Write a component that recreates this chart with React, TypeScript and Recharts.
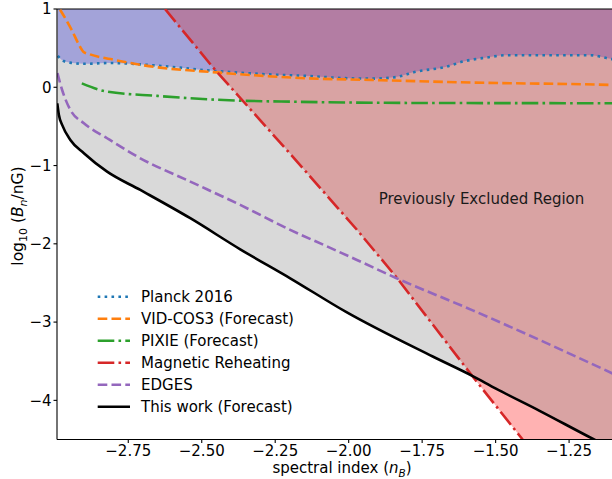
import { ComposedChart, Line, Area, XAxis, YAxis, ReferenceLine } from "recharts";

// spectral index n_B vs log10(B_n / nG)
const X_MIN = -2.9925;
const X_MAX = -1.104;
const Y_MIN = -4.5;
const Y_MAX = 1;

const xTicks = [-2.75, -2.5, -2.25, -2.0, -1.75, -1.5, -1.25];
const yTicks = [-4, -3, -2, -1, 0, 1];

const planck2016: [number, number][] = [
  [-2.99, 0.4], [-2.97, 0.335], [-2.94, 0.31], [-2.9, 0.3], [-2.81, 0.31],
  [-2.68, 0.285], [-2.46, 0.21], [-2.3, 0.17], [-2.145, 0.145], [-2.0, 0.115],
  [-1.92, 0.11], [-1.84, 0.13], [-1.77, 0.2], [-1.67, 0.26], [-1.61, 0.33],
  [-1.53, 0.38], [-1.465, 0.41], [-1.3, 0.41], [-1.18, 0.41], [-1.105, 0.36],
  [-1.06, 0.34],
];

const vidCos3: [number, number][] = [
  [-2.982, 0.99], [-2.942, 0.73], [-2.92, 0.56], [-2.903, 0.455], [-2.88, 0.42],
  [-2.81, 0.36], [-2.68, 0.27], [-2.45, 0.19], [-2.145, 0.115], [-1.92, 0.093],
  [-1.58, 0.06], [-1.105, 0.03], [-1.06, 0.025],
];

const pixie: [number, number][] = [
  [-2.908, 0.05], [-2.822, -0.056], [-2.652, -0.11], [-2.482, -0.153],
  [-2.369, -0.171], [-2.199, -0.184], [-1.972, -0.196], [-1.8, -0.2],
  [-1.105, -0.205], [-1.06, -0.206],
];

const magneticReheating: [number, number][] = [
  [-2.625, 1.0], [-2.461, 0.25], [-2.199, -0.85], [-1.972, -1.82],
  [-1.839, -2.42], [-1.578, -3.696], [-1.421, -4.44], [-1.408, -4.5],
];

const edges: [number, number][] = [
  [-2.991, 0.18], [-2.975, -0.035], [-2.947, -0.29], [-2.901, -0.46],
  [-2.822, -0.651], [-2.709, -0.907], [-2.539, -1.205], [-2.369, -1.503],
  [-2.199, -1.822], [-2.085, -2.014], [-1.972, -2.206], [-1.839, -2.436],
  [-1.578, -2.85], [-1.104, -3.653], [-1.06, -3.73],
];

const thisWork: [number, number][] = [
  [-2.9915, -0.205], [-2.986, -0.354], [-2.975, -0.48], [-2.947, -0.673],
  [-2.901, -0.843], [-2.822, -1.078], [-2.709, -1.312], [-2.539, -1.673],
  [-2.369, -2.07], [-2.199, -2.44], [-2.009, -2.87], [-1.714, -3.44],
  [-1.578, -3.69], [-1.499, -3.85], [-1.352, -4.13], [-1.17, -4.49],
  [-1.06, -4.7],
];

const FONT = "'DejaVu Sans', sans-serif";
const DOT = "2.6 4.3";
const DASH = "9.6 4.2";
const DASHDOT = "16.6 4.2 2.6 4.2";

const toPoints = (pairs: [number, number][]) => pairs.map(([x, y]) => ({ x, y }));
// range area from the curve up to the top of the axes
const toBand = (pairs: [number, number][]) => pairs.map(([x, y]) => ({ x, y: [y, Y_MAX] }));

const legendItems = [
  { name: "Planck 2016", color: "#1f77b4", dash: DOT },
  { name: "VID-COS3 (Forecast)", color: "#ff7f0e", dash: DASH },
  { name: "PIXIE (Forecast)", color: "#2ca02c", dash: DASHDOT },
  { name: "Magnetic Reheating", color: "#d62728", dash: DASHDOT },
  { name: "EDGES", color: "#9467bd", dash: DASH },
  { name: "This work (Forecast)", color: "#000000", dash: undefined },
];

const fmt = (v: number, digits: number) => {
  const s = Math.abs(v).toFixed(digits);
  return v < 0 ? "\u2212" + s : s;
};

export default function App() {
  const tickStyle = { fontSize: 15, fill: "#000", fontFamily: FONT };
  return (
    <div
      style={{
        position: "fixed",
        left: 0,
        top: 0,
        width: 612,
        height: 479,
        overflow: "hidden",
        background: "#fff",
      }}
    >
      <ComposedChart
        width={612}
        height={479}
        margin={{ top: 9, right: 0, bottom: 9, left: 0 }}
      >
        <XAxis
          dataKey="x"
          type="number"
          domain={[X_MIN, X_MAX]}
          allowDataOverflow
          ticks={xTicks}
          interval={0}
          tickFormatter={(v: number) => fmt(v, 2)}
          tick={tickStyle}
          tickSize={3.5}
          tickMargin={2}
          height={30.5}
          axisLine={{ stroke: "#000", strokeWidth: 1.1 }}
          tickLine={{ stroke: "#000", strokeWidth: 1.1 }}
        />
        <YAxis
          type="number"
          domain={[Y_MIN, Y_MAX]}
          allowDataOverflow
          ticks={yTicks}
          interval={0}
          tickFormatter={(v: number) => fmt(v, 0)}
          tick={tickStyle}
          tickSize={3.5}
          tickMargin={2}
          width={57}
          axisLine={{ stroke: "#000", strokeWidth: 1.1 }}
          tickLine={{ stroke: "#000", strokeWidth: 1.1 }}
        />
        <Area
          data={toBand(planck2016)}
          dataKey="y"
          type="monotone"
          stroke="none"
          fill="#0000ff"
          fillOpacity={0.3}
          isAnimationActive={false}
        />
        <Area
          data={[...toBand(magneticReheating), { x: -1.06, y: [Y_MIN, Y_MAX] }]}
          dataKey="y"
          type="linear"
          stroke="none"
          fill="#ff0000"
          fillOpacity={0.3}
          isAnimationActive={false}
        />
        <Area
          data={toBand(thisWork)}
          dataKey="y"
          type="monotone"
          stroke="none"
          fill="#808080"
          fillOpacity={0.3}
          isAnimationActive={false}
        />
        <ReferenceLine y={Y_MAX} stroke="#000" strokeWidth={1.1} />
        <Line data={toPoints(planck2016)} dataKey="y" type="monotone" stroke="#1f77b4"
          strokeWidth={2.6} strokeDasharray={DOT} dot={false} isAnimationActive={false} />
        <Line data={toPoints(vidCos3)} dataKey="y" type="monotone" stroke="#ff7f0e"
          strokeWidth={2.6} strokeDasharray={DASH} dot={false} isAnimationActive={false} />
        <Line data={toPoints(pixie)} dataKey="y" type="monotone" stroke="#2ca02c"
          strokeWidth={2.6} strokeDasharray={DASHDOT} dot={false} isAnimationActive={false} />
        <Line data={toPoints(magneticReheating)} dataKey="y" type="linear" stroke="#d62728"
          strokeWidth={2.6} strokeDasharray={DASHDOT} dot={false} isAnimationActive={false} />
        <Line data={toPoints(edges)} dataKey="y" type="monotone" stroke="#9467bd"
          strokeWidth={2.6} strokeDasharray={DASH} dot={false} isAnimationActive={false} />
        <Line data={toPoints(thisWork)} dataKey="y" type="monotone" stroke="#000000"
          strokeWidth={2.6} dot={false} isAnimationActive={false} />
      </ComposedChart>

      <svg
        width={612}
        height={479}
        style={{ position: "absolute", left: 0, top: 0, pointerEvents: "none" }}
        fontFamily={FONT}
      >
        <text x={378.7} y={203.5} fontSize={15} fill="#1a1a1a">
          Previously Excluded Region
        </text>

        {legendItems.map((item, i) => {
          const y = 296.7 + i * 22;
          return (
            <g key={item.name}>
              <line x1={97.7} x2={130} y1={y} y2={y} stroke={item.color}
                strokeWidth={2.6} strokeDasharray={item.dash} />
              <text x={141} y={y + 5.4} fontSize={15} fill="#000">{item.name}</text>
            </g>
          );
        })}

        <text x={342} y={473.2} fontSize={15} textAnchor="middle" fill="#000">
          spectral index (<tspan fontStyle="italic">n</tspan>
          <tspan fontStyle="italic" fontSize={10.5} dy={3.5}>B</tspan>
          <tspan dy={-3.5}>)</tspan>
        </text>

        <text transform="translate(23,216) rotate(-90)" fontSize={15.5} textAnchor="middle" fill="#000">
          log<tspan fontSize={11} dy={3.5}>10</tspan>
          <tspan dy={-3.5}> (</tspan>
          <tspan fontStyle="italic">B</tspan>
          <tspan fontStyle="italic" fontSize={11} dy={3.5}>n</tspan>
          <tspan dy={-3.5}>/nG)</tspan>
        </text>
      </svg>
    </div>
  );
}
